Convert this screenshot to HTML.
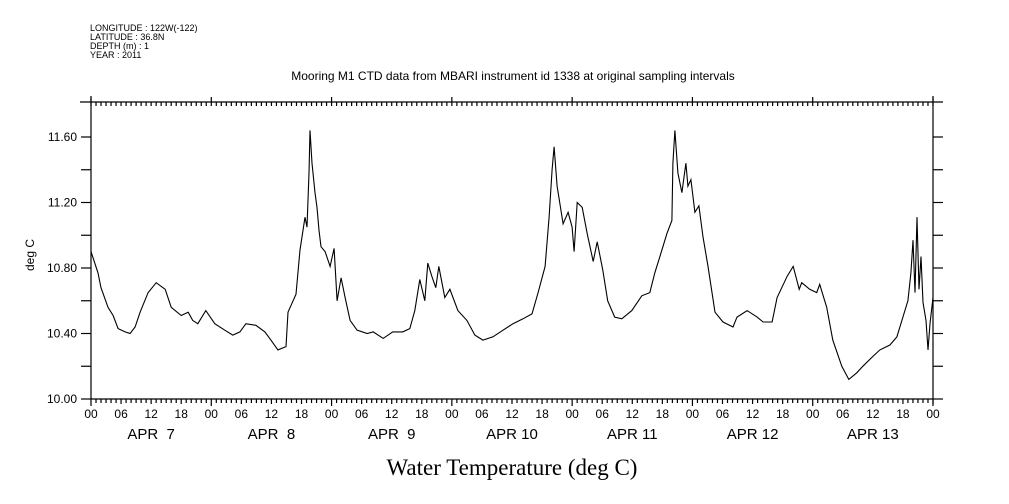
<!DOCTYPE html>
<html><head><meta charset="utf-8"><style>
html,body{margin:0;padding:0;background:#fff;}
svg{display:block;}
text{font-family:"Liberation Sans",sans-serif;fill:#000;}
</style></head><body>
<svg id="chart" width="1009" height="504" viewBox="0 0 1009 504" xmlns="http://www.w3.org/2000/svg">
<g font-size="9">
<text x="90" y="31">LONGITUDE : 122W(-122)</text>
<text x="90" y="40">LATITUDE : 36.8N</text>
<text x="90" y="49">DEPTH (m) : 1</text>
<text x="90" y="58">YEAR : 2011</text>
</g>
<text x="513" y="80" text-anchor="middle" font-size="12">Mooring M1 CTD data from MBARI instrument id 1338 at original sampling intervals</text>
<text x="34" y="255" text-anchor="middle" font-size="12" transform="rotate(-90 34 255)">deg C</text>
<text x="512" y="475" text-anchor="middle" font-size="23" style="font-family:'Liberation Serif',serif">Water Temperature (deg C)</text>
<g id="axes" stroke="#000" stroke-width="1.2" fill="none"></g>
<g id="labels"></g>
<path id="series" fill="none" stroke="#000" stroke-width="1.1"/>
</svg>
<script>
const hours = [0,1.4,2.0,3.4,4.4,5.4,6.8,7.8,8.8,9.8,11.4,13.0,14.8,16.0,18.0,19.4,20.3,21.3,22.9,24.7,26.7,28.3,29.7,30.9,32.9,34.7,35.9,37.3,38.9,39.3,40.9,41.7,42.7,43.1,43.5,43.7,44.1,44.7,45.1,45.5,45.9,46.7,47.7,48.5,49.1,49.9,50.7,51.7,53.1,55.1,56.3,58.3,60.2,62.2,63.6,64.6,65.6,66.6,67.2,68.0,68.8,69.4,70.6,71.6,73.2,75.0,76.6,78.2,80.2,82.2,84.2,86.2,88.0,89.2,90.6,91.4,92.0,92.4,93.0,94.2,95.2,96.0,96.4,97.0,98.0,99.0,100.2,101.0,102.1,103.1,104.5,105.9,107.9,109.9,111.5,112.5,113.7,114.9,115.9,116.1,116.5,117.1,117.9,118.7,119.1,119.7,120.5,121.3,122.1,123.1,124.5,126.1,128.1,128.9,130.9,132.9,134.1,135.9,136.9,138.9,140.1,141.3,141.8,143.4,144.8,145.4,146.8,148.0,149.8,151.2,152.8,154.0,156.0,157.4,159.4,160.8,162.0,163.0,163.6,164.0,164.4,164.8,165.2,165.6,166.0,166.6,167.0,167.4,168.0];
const temps = [10.90,10.77,10.68,10.56,10.51,10.43,10.41,10.40,10.44,10.53,10.65,10.71,10.67,10.56,10.51,10.53,10.48,10.46,10.54,10.46,10.42,10.39,10.41,10.46,10.45,10.41,10.36,10.30,10.32,10.53,10.64,10.91,11.11,11.05,11.38,11.64,11.44,11.26,11.17,11.03,10.93,10.90,10.81,10.92,10.60,10.74,10.62,10.48,10.42,10.40,10.41,10.37,10.41,10.41,10.43,10.54,10.73,10.60,10.83,10.75,10.68,10.81,10.62,10.67,10.54,10.48,10.39,10.36,10.38,10.42,10.46,10.49,10.52,10.65,10.81,11.11,11.40,11.54,11.30,11.07,11.14,11.05,10.90,11.20,11.17,11.01,10.84,10.96,10.79,10.60,10.50,10.49,10.54,10.63,10.65,10.77,10.89,11.01,11.09,11.44,11.64,11.38,11.26,11.44,11.30,11.34,11.14,11.18,10.99,10.81,10.53,10.47,10.44,10.50,10.54,10.50,10.47,10.47,10.62,10.75,10.81,10.67,10.71,10.67,10.65,10.70,10.56,10.36,10.20,10.12,10.16,10.20,10.26,10.30,10.33,10.38,10.50,10.60,10.77,10.97,10.65,11.11,10.67,10.87,10.59,10.48,10.30,10.46,10.62];
const yTicks = [10.00,10.20,10.40,10.60,10.80,11.00,11.20,11.40,11.60];
const yLabels = ["10.00","","10.40","","10.80","","11.20","","11.60"];
const xHourLabels = ["00","06","12","18"];
const dayLabels = ["APR  7","APR  8","APR  9","APR 10","APR 11","APR 12","APR 13"];

const X0=91, X1=933, Y0=399, YT=102;
const x = h => X0 + (X1-X0)*h/168;
const y = v => Y0 - (v-10)*163.75;
const NS="http://www.w3.org/2000/svg";
const axes=document.getElementById('axes'), labels=document.getElementById('labels');
function line(x1,y1,x2,y2,name){const l=document.createElementNS(NS,'line');l.setAttribute('x1',x1);l.setAttribute('y1',y1);l.setAttribute('x2',x2);l.setAttribute('y2',y2);


axes.appendChild(l);}
function txt(xx,yy,s,anchor,size,name){const t=document.createElementNS(NS,'text');t.setAttribute('x',xx);t.setAttribute('y',yy);t.setAttribute('text-anchor',anchor);t.setAttribute('font-size',size);t.textContent=s;


labels.appendChild(t);}
line(X0,96,X0,Y0,'left-axis');
line(X1,96,X1,Y0+5,'right-axis');
line(80,YT,943,YT,'top-axis');
line(X0,Y0,X1,Y0,'bottom-axis');
for(let h=0;h<=168;h++){
  const xx=x(h), major=h%24===0, six=h%6===0;
  line(xx,Y0,xx,Y0+(major?7:(six?5:4)),'x-tick');
  line(xx,YT,xx,YT+(major?0:4),'top-tick');
  if(major) line(xx,YT-5,xx,YT+4,'top-day-tick');
  if(six) txt(xx,Y0+19,xHourLabels[(h/6)%4],'middle',12,'x-tick-label');
}
dayLabels.forEach((d,i)=>txt(x(i*24+12),Y0+40,d.replace(/ /g,'\u00a0'),'middle',15,'day-label'));
yTicks.forEach((v,i)=>{
  line(X0-10,y(v),X0,y(v),'y-tick');
  line(X1,y(v),X1+10,y(v),'right-y-tick');
  if(yLabels[i]) txt(X0-14,y(v)+4,yLabels[i],'end',12,'y-tick-label');
});
let d='';
hours.forEach((h,i)=>{d+=(i?'L':'M')+x(h).toFixed(1)+' '+y(temps[i]).toFixed(1);});
document.getElementById('series').setAttribute('d',d);
</script>
</body></html>
